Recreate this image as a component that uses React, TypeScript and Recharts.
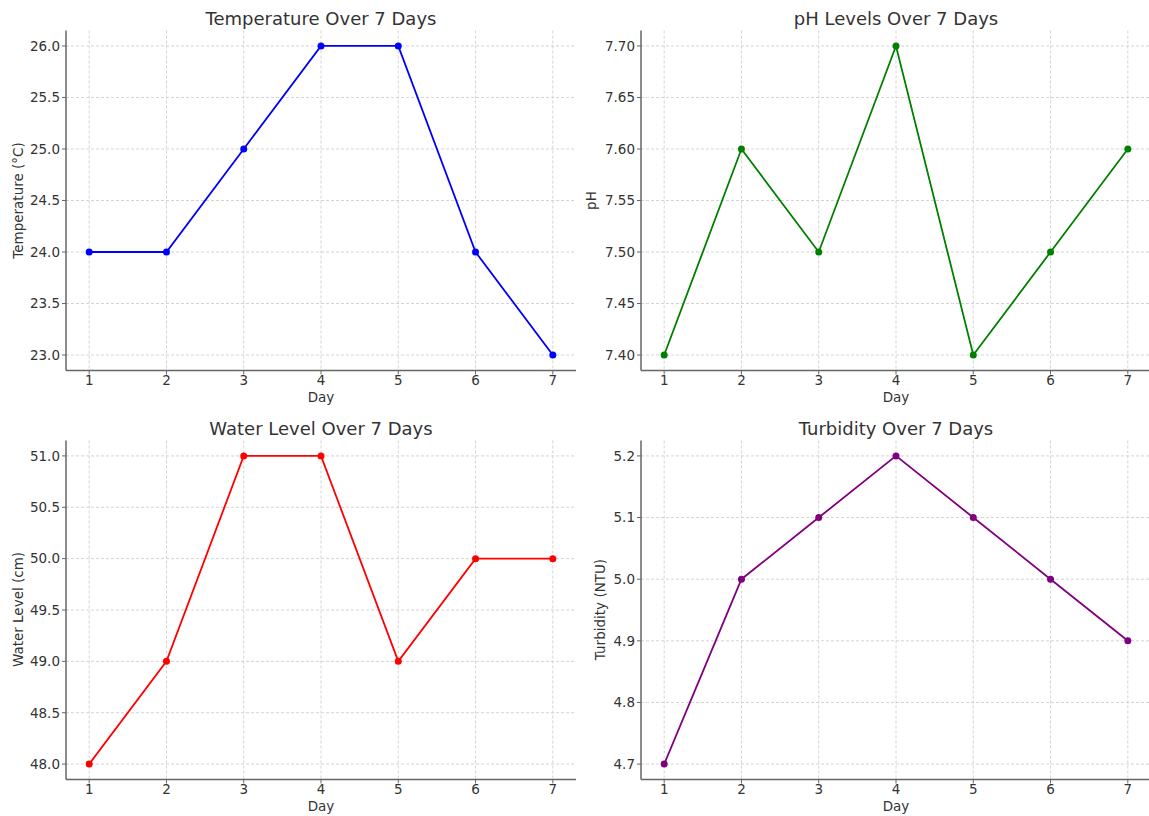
import React from 'react';
import { LineChart, Line, XAxis, YAxis, CartesianGrid } from 'recharts';

const days = [1, 2, 3, 4, 5, 6, 7];
const temperature = [24, 24, 25, 26, 26, 24, 23];
const ph = [7.4, 7.6, 7.5, 7.7, 7.4, 7.5, 7.6];
const waterLevel = [48, 49, 51, 51, 49, 50, 50];
const turbidity = [4.7, 5.0, 5.1, 5.2, 5.1, 5.0, 4.9];

const dayTicks = [1, 2, 3, 4, 5, 6, 7];
const temperatureTicks = [23.0, 23.5, 24.0, 24.5, 25.0, 25.5, 26.0];
const phTicks = [7.4, 7.45, 7.5, 7.55, 7.6, 7.65, 7.7];
const waterLevelTicks = [48.0, 48.5, 49.0, 49.5, 50.0, 50.5, 51.0];
const turbidityTicks = [4.7, 4.8, 4.9, 5.0, 5.1, 5.2];

const X_DOMAIN: [number, number] = [0.7, 7.3];
const FONT = '"DejaVu Sans", sans-serif';
const TEXT = '#333333';
const AXIS = '#666666';

type PanelProps = {
  left: number;
  top: number;
  marginTop: number;
  values: number[];
  color: string;
  domain: [number, number];
  ticks: number[];
  decimals: number;
};

function Panel({ left, top, marginTop, values, color, domain, ticks, decimals }: PanelProps) {
  const data = days.map((d, i) => ({ day: d, value: values[i] }));
  const hGen = (p: any) => {
    const o = p.offset;
    return ticks.map((t) => o.top + ((domain[1] - t) / (domain[1] - domain[0])) * o.height);
  };
  const vGen = (p: any) => {
    const o = p.offset;
    return dayTicks.map((t) => o.left + ((t - X_DOMAIN[0]) / (X_DOMAIN[1] - X_DOMAIN[0])) * o.width);
  };
  return (
    <div style={{ position: 'absolute', left, top }}>
      <LineChart
        width={576}
        height={400}
        data={data}
        margin={{ top: marginTop, right: 0, left: 0, bottom: 0 }}
      >
        <CartesianGrid
          stroke="#d4d4d4"
          strokeDasharray="3 2"
          horizontalCoordinatesGenerator={hGen}
          verticalCoordinatesGenerator={vGen}
        />
        <XAxis
          dataKey="day"
          type="number"
          domain={X_DOMAIN}
          allowDataOverflow
          ticks={dayTicks}
          height={29.5}
          tickSize={4}
          tickMargin={1}
          axisLine={{ stroke: AXIS, strokeWidth: 1.5 }}
          tickLine={{ stroke: AXIS }}
          tick={{ fill: TEXT, fontSize: 13.5, fontFamily: FONT }}
          interval={0}
        />
        <YAxis
          type="number"
          domain={domain}
          allowDataOverflow
          ticks={ticks}
          width={66}
          tickSize={4}
          tickMargin={2}
          axisLine={{ stroke: AXIS, strokeWidth: 1.5 }}
          tickLine={{ stroke: AXIS }}
          tick={{ fill: TEXT, fontSize: 13.5, fontFamily: FONT }}
          tickFormatter={(v: number) => v.toFixed(decimals)}
          interval={0}
        />
        <Line
          type="linear"
          dataKey="value"
          stroke={color}
          strokeWidth={1.8}
          dot={{ r: 3.5, fill: color, stroke: color, strokeWidth: 0 }}
          activeDot={false}
          isAnimationActive={false}
        />
      </LineChart>
    </div>
  );
}

export default function App() {
  return (
    <div
      style={{
        position: 'absolute',
        left: 0,
        top: 0,
        width: 1149,
        height: 816,
        overflow: 'hidden',
        background: '#ffffff',
      }}
    >
      <Panel left={0} top={0} marginTop={30.5} values={temperature} color="#0000ff" domain={[22.85, 26.15]} ticks={temperatureTicks} decimals={1} />
      <Panel left={575} top={0} marginTop={30.5} values={ph} color="#008000" domain={[7.385, 7.715]} ticks={phTicks} decimals={2} />
      <Panel left={0} top={409} marginTop={31.5} values={waterLevel} color="#ff0000" domain={[47.85, 51.15]} ticks={waterLevelTicks} decimals={1} />
      <Panel left={575} top={409} marginTop={31.5} values={turbidity} color="#800080" domain={[4.675, 5.225]} ticks={turbidityTicks} decimals={1} />
      <svg
        width={1149}
        height={816}
        style={{ position: 'absolute', left: 0, top: 0, pointerEvents: 'none' }}
        fontFamily={FONT}
        fill={TEXT}
      >
        <text x={321} y={25} fontSize={18} textAnchor="middle">Temperature Over 7 Days</text>
        <text x={896} y={25} fontSize={18} textAnchor="middle">pH Levels Over 7 Days</text>
        <text x={321} y={435} fontSize={18} textAnchor="middle">Water Level Over 7 Days</text>
        <text x={896} y={435} fontSize={18} textAnchor="middle">Turbidity Over 7 Days</text>

        <text x={321} y={402} fontSize={13.5} textAnchor="middle">Day</text>
        <text x={896} y={402} fontSize={13.5} textAnchor="middle">Day</text>
        <text x={321} y={811} fontSize={13.5} textAnchor="middle">Day</text>
        <text x={896} y={811} fontSize={13.5} textAnchor="middle">Day</text>

        <text x={23} y={200.5} fontSize={13.5} textAnchor="middle" transform="rotate(-90, 23, 200.5)">Temperature (°C)</text>
        <text x={596} y={200.5} fontSize={13.5} textAnchor="middle" transform="rotate(-90, 596, 200.5)">pH</text>
        <text x={23} y={609.5} fontSize={13.5} textAnchor="middle" transform="rotate(-90, 23, 609.5)">Water Level (cm)</text>
        <text x={605} y={609.5} fontSize={13.5} textAnchor="middle" transform="rotate(-90, 605, 609.5)">Turbidity (NTU)</text>
      </svg>
    </div>
  );
}
